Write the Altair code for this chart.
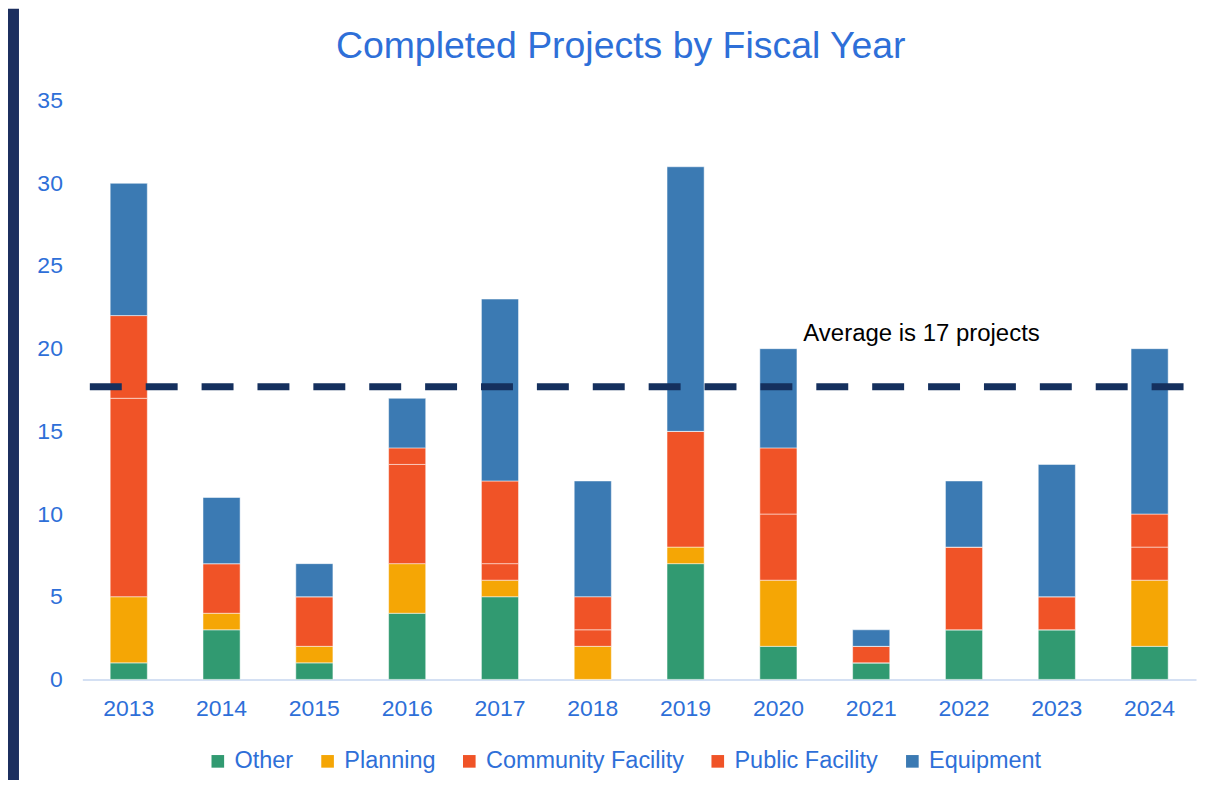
import altair as alt
import pandas as pd

years = ["2013", "2014", "2015", "2016", "2017", "2018",
         "2019", "2020", "2021", "2022", "2023", "2024"]
series = ["Other", "Planning", "Community Facility", "Public Facility", "Equipment"]
other = [1, 3, 1, 4, 5, 0, 7, 2, 1, 3, 3, 2]
planning = [4, 1, 1, 3, 1, 2, 1, 4, 0, 0, 0, 4]
community = [12, 3, 3, 6, 1, 1, 7, 4, 1, 5, 2, 2]
public = [5, 0, 0, 1, 5, 2, 0, 4, 0, 0, 0, 2]
equipment = [8, 4, 2, 3, 11, 7, 16, 6, 1, 4, 8, 10]
colors = ["#319A71", "#F5A605", "#F05327", "#F05327", "#3B7AB3"]
average_value = [17.7]
annotation_year = ["2020"]
annotation_y = [21]
annotation_text = ["Average is 17 projects"]

BLUE_TEXT = "#2E6FD8"
NAVY = "#15305E"
FONT = "Liberation Sans"

rows = []
for si, (name, vals) in enumerate(zip(series, [other, planning, community, public, equipment])):
    for y, v in zip(years, vals):
        rows.append({"year": y, "series": name, "value": v, "order": si})
df = pd.DataFrame(rows)

W, H = 1116, 580

bars = alt.Chart(df).mark_bar(stroke="white", strokeWidth=1, strokeOpacity=0.5).encode(
    x=alt.X("year:N", sort=years,
            scale=alt.Scale(paddingInner=0.6, paddingOuter=0.3),
            axis=alt.Axis(title=None, labelAngle=0, ticks=False, domainColor="#C6D6EF",
                          domainWidth=1.5, labelFontSize=23, labelColor=BLUE_TEXT,
                          labelFont=FONT, labelPadding=18)),
    y=alt.Y("value:Q", stack="zero",
            scale=alt.Scale(domain=[0, 35], nice=False),
            axis=alt.Axis(title=None, values=[0, 5, 10, 15, 20, 25, 30, 35], grid=False,
                          domain=False, ticks=False, labelFontSize=23, labelColor=BLUE_TEXT,
                          labelFont=FONT, labelPadding=20)),
    color=alt.Color("series:N", sort=series,
                    scale=alt.Scale(domain=series, range=colors),
                    legend=alt.Legend(title=None, orient="none", direction="horizontal",
                                      legendX=124, legendY=650, symbolType="square",
                                      symbolSize=160, symbolStrokeWidth=0, labelFontSize=23.5,
                                      labelColor=BLUE_TEXT, labelFont=FONT, labelOffset=5,
                                      labelLimit=0, columnPadding=22, padding=0)),
    order=alt.Order("order:Q", sort="ascending"),
)

avg_df = pd.DataFrame({"avg": average_value})
rule = alt.Chart(avg_df).mark_rule(color=NAVY, strokeWidth=7, strokeDash=[32, 24]).encode(
    y="avg:Q", x=alt.value(7.5), x2=alt.value(1103.5)
)

ann_df = pd.DataFrame({"year": annotation_year, "y": annotation_y, "label": annotation_text})
ann = alt.Chart(ann_df).mark_text(align="left", baseline="middle", dx=25, dy=2, fontSize=24,
                                  color="black", font=FONT).encode(
    x=alt.X("year:N", sort=years), y="y:Q", text="label:N"
)

strip = alt.Chart(pd.DataFrame({"k": [0]})).mark_rect(color="#1C2F5F").encode(
    x=alt.value(-74.5), x2=alt.value(-63.5), y=alt.value(-92), y2=alt.value(700)
)

chart = alt.layer(strip, bars, rule, ann).properties(
    width=W, height=H,
    title=alt.TitleParams("Completed Projects by Fiscal Year", fontSize=37.5, color=BLUE_TEXT,
                          font=FONT, fontWeight="normal", anchor="middle", dx=-18.5,
                          offset=-57),
    autosize=alt.AutoSizeParams(type="none"),
    padding={"left": 74.5, "top": 92, "right": 10, "bottom": 100},
).configure(background="white").configure_view(stroke=None)

chart.save("out.html", embed_options={"renderer": "svg", "actions": False})
